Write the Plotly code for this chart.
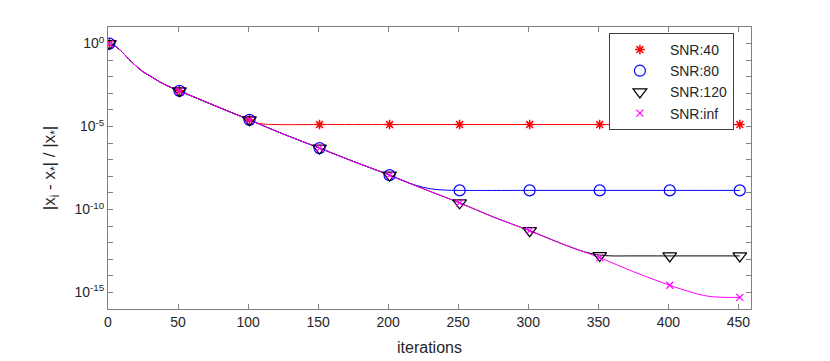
import numpy as np
import plotly.graph_objects as go

# line samples (iteration, log10 of relative error)
base_iter = [1, 5, 10, 15, 20, 25, 30, 40, 51, 75, 101, 125, 151, 175, 201, 225, 251,
             275, 301, 325, 351, 375, 401, 415, 425, 435, 451]
base_log = [0.0, -0.15, -0.5, -0.95, -1.35, -1.7, -1.95, -2.45, -2.85, -3.7, -4.6, -5.45,
            -6.3, -7.1, -7.93, -8.75, -9.6, -10.45, -11.28, -12.1, -12.9, -13.75, -14.57,
            -14.95, -15.18, -15.28, -15.3]

snr40_iter = [101, 105, 110, 120, 151, 201, 251, 301, 351, 401, 451]
snr40_log = [-4.6, -4.75, -4.84, -4.88, -4.88, -4.88, -4.88, -4.88, -4.88, -4.88, -4.88]

snr80_iter = [201, 210, 220, 230, 240, 251, 301, 351, 401, 451]
snr80_log = [-7.93, -8.25, -8.55, -8.75, -8.83, -8.85, -8.85, -8.85, -8.85, -8.85]

snr120_iter = [330, 340, 351, 360, 370, 401, 451]
snr120_log = [-12.2, -12.55, -12.75, -12.8, -12.8, -12.8, -12.8]

# markers every 50 iterations
mark_iter = [1, 51, 101, 151, 201, 251, 301, 351, 401, 451]
mark40 = [0.0, -2.85, -4.6, -4.88, -4.88, -4.88, -4.88, -4.88, -4.88, -4.88]
mark80 = [0.0, -2.85, -4.6, -6.3, -7.93, -8.85, -8.85, -8.85, -8.85, -8.85]
mark120 = [0.0, -2.85, -4.6, -6.3, -7.93, -9.6, -11.28, -12.78, -12.8, -12.8]
markinf = [0.0, -2.85, -4.6, -6.3, -7.93, -9.6, -11.28, -12.9, -14.57, -15.3]


def pw(v):
    return np.power(10.0, np.array(v))


def upto(it, lg, stop):
    xs = [x for x in it if x <= stop]
    return xs, lg[:len(xs)]


fig = go.Figure()

# lines (red, blue, black, magenta on top)
bx, by = upto(base_iter, base_log, 101)
fig.add_trace(go.Scatter(x=bx + snr40_iter[1:], y=pw(by + snr40_log[1:]), mode='lines',
                         line=dict(color='#ff0000', width=1, shape='spline'), showlegend=False))
bx, by = upto(base_iter, base_log, 201)
fig.add_trace(go.Scatter(x=bx + snr80_iter[1:], y=pw(by + snr80_log[1:]), mode='lines',
                         line=dict(color='#0000ff', width=1, shape='spline'), showlegend=False))
bx, by = upto(base_iter, base_log, 325)
fig.add_trace(go.Scatter(x=bx + snr120_iter[1:], y=pw(by + snr120_log[1:]), mode='lines',
                         line=dict(color='#000000', width=1, shape='spline'), showlegend=False))
fig.add_trace(go.Scatter(x=base_iter, y=pw(base_log), mode='lines',
                         line=dict(color='#ff00ff', width=1, shape='spline'), showlegend=False))

# markers
fig.add_trace(go.Scatter(x=mark_iter, y=pw(mark40), mode='markers', name='SNR:40',
                         marker=dict(symbol='asterisk-open', size=8, color='#ff0000',
                                     line=dict(color='#ff0000', width=1.5))))
fig.add_trace(go.Scatter(x=mark_iter, y=pw(mark80), mode='markers', name='SNR:80',
                         marker=dict(symbol='circle-open', size=11, color='#0000ff',
                                     line=dict(color='#0000ff', width=1.2))))
fig.add_trace(go.Scatter(x=mark_iter, y=pw(mark120), mode='markers', name='SNR:120',
                         marker=dict(symbol='triangle-down-open', size=12, color='#000000',
                                     line=dict(color='#000000', width=1.2))))
fig.add_trace(go.Scatter(x=mark_iter, y=pw(markinf), mode='markers', name='SNR:inf',
                         marker=dict(symbol='x-thin-open', size=7, color='#ff00ff',
                                     line=dict(color='#ff00ff', width=1.2))))

decades = list(range(-16, 2))
tickvals = [10.0 ** d for d in decades]
ticktext = [f'10<sup>{d}</sup>' if d in (0, -5, -10, -15) else '' for d in decades]

axis_common = dict(
    showline=True, linecolor='#808080', linewidth=1, mirror='allticks',
    ticks='inside', ticklen=5, tickcolor='#808080', showgrid=False, zeroline=False,
    automargin=False,
    tickfont=dict(family='Liberation Sans, Arial, sans-serif', size=14, color='#262626'),
)

# page body adds an 8px margin, so the figure is 8px smaller each way
fig.update_layout(
    width=822, height=353,
    paper_bgcolor='white', plot_bgcolor='white',
    margin=dict(l=100, r=79, t=19, b=52),
    font=dict(family='Liberation Sans, Arial, sans-serif', size=14, color='#262626'),
    xaxis=dict(range=[0, 459], tickvals=[0, 50, 100, 150, 200, 250, 300, 350, 400, 450],
               title=dict(text='iterations', standoff=13, font=dict(size=16)), **axis_common),
    yaxis=dict(type='log', range=[-16, 1], tickvals=tickvals, ticktext=ticktext,
               title=dict(text='|x<sub>i</sub> - x<sub>*</sub>| / |x<sub>*</sub>|', standoff=14,
                          font=dict(size=17)),
               **axis_common),
    legend=dict(x=0.779, y=0.979, xanchor='left', yanchor='top',
                bordercolor='#404040', borderwidth=1, bgcolor='white',
                font=dict(size=14), itemwidth=50, tracegroupgap=0, itemsizing='trace'),
)

fig.write_html('out.html')
